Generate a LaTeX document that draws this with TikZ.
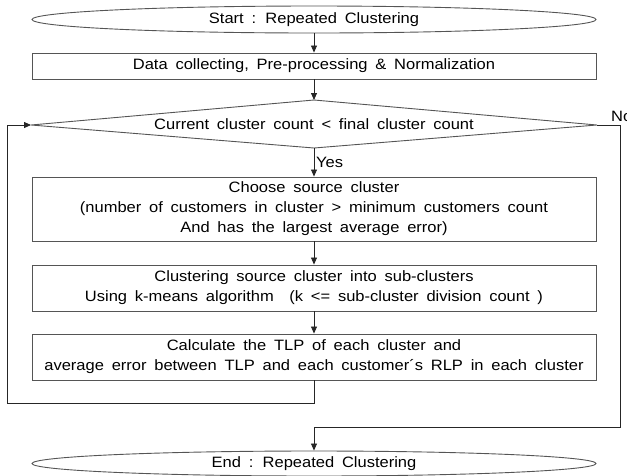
\documentclass[tikz,border=0pt]{standalone}
\usepackage{fontspec}
\setmainfont{Liberation Sans}[WordSpace=1.7, FakeStretch=1.1]
\usetikzlibrary{arrows.meta,shapes.geometric}
\definecolor{lineclr}{HTML}{555555}
\tikzset{
  every node/.style={font=\fontsize{15}{20}\selectfont, text=black},
  term/.style={draw=lineclr, line width=0.9pt, ellipse, minimum width=564pt, minimum height=27pt, inner sep=0pt},
  procbox/.style={draw=lineclr, line width=0.9pt, rectangle, minimum width=564pt, inner sep=0pt, align=center},
  flow/.style={draw=black!85, line width=0.8pt, -{Triangle[length=7pt,width=6pt]}},
}
\begin{document}
\begin{tikzpicture}[x=1pt,y=-1pt]
\useasboundingbox (0,0) rectangle (627,475);
% terminals
\node[term] (start) at (314,19.5) {Start : Repeated Clustering};
\node[term, minimum height=25pt] (end) at (314,463.5) {End : Repeated Clustering};
% data box
\node[procbox, minimum height=26pt] (data) at (314,66) {Data collecting, Pre-processing \& Normalization};
% decision
\coordinate (dtop) at (314,100);
\coordinate (dbot) at (314,148);
\coordinate (dleft) at (31,125);
\coordinate (dright) at (597,125);
\draw[draw=lineclr, line width=0.9pt] (dtop) -- (dright) -- (dbot) -- (dleft) -- cycle;
\node (dtext) at (314,124) {Current cluster count < final cluster count};
% process boxes
\node[procbox, minimum height=64pt] (choose) at (314,209) {Choose source cluster\\(number of customers in cluster > minimum customers count\\And has the largest average error)};
\node[procbox, minimum height=46pt] (split) at (314,288) {Clustering source cluster into sub-clusters\\Using k-means algorithm~ (k <= sub-cluster division count )};
\node[procbox, minimum height=46pt] (calc) at (314,357) {Calculate the TLP of each cluster and\\average error between TLP and each customer´s RLP in each cluster};
% connectors
\draw[flow] (start.south) -- (data.north);
\draw[flow] (data.south) -- (dtop);
\draw[flow] (dbot) -- (choose.north);
\node[anchor=west, inner sep=0pt] (yes) at (316,162) {Yes};
\draw[flow] (choose.south) -- (split.north);
\draw[flow] (split.south) -- (calc.north);
% loop back
\coordinate (lb1) at (314,403);
\coordinate (lb2) at (7,403);
\coordinate (lb3) at (7,125);
\draw[flow] (calc.south) -- (lb1) -- (lb2) -- (lb3) -- (dleft);
% no branch
\coordinate (nb1) at (620,125);
\coordinate (nb2) at (620,427);
\coordinate (nb3) at (314,427);
\draw[flow] (dright) -- (nb1) -- (nb2) -- (nb3) -- (end.north);
\node[anchor=base west, inner sep=0pt] (no) at (611,121) {No};
\end{tikzpicture}
\end{document}
